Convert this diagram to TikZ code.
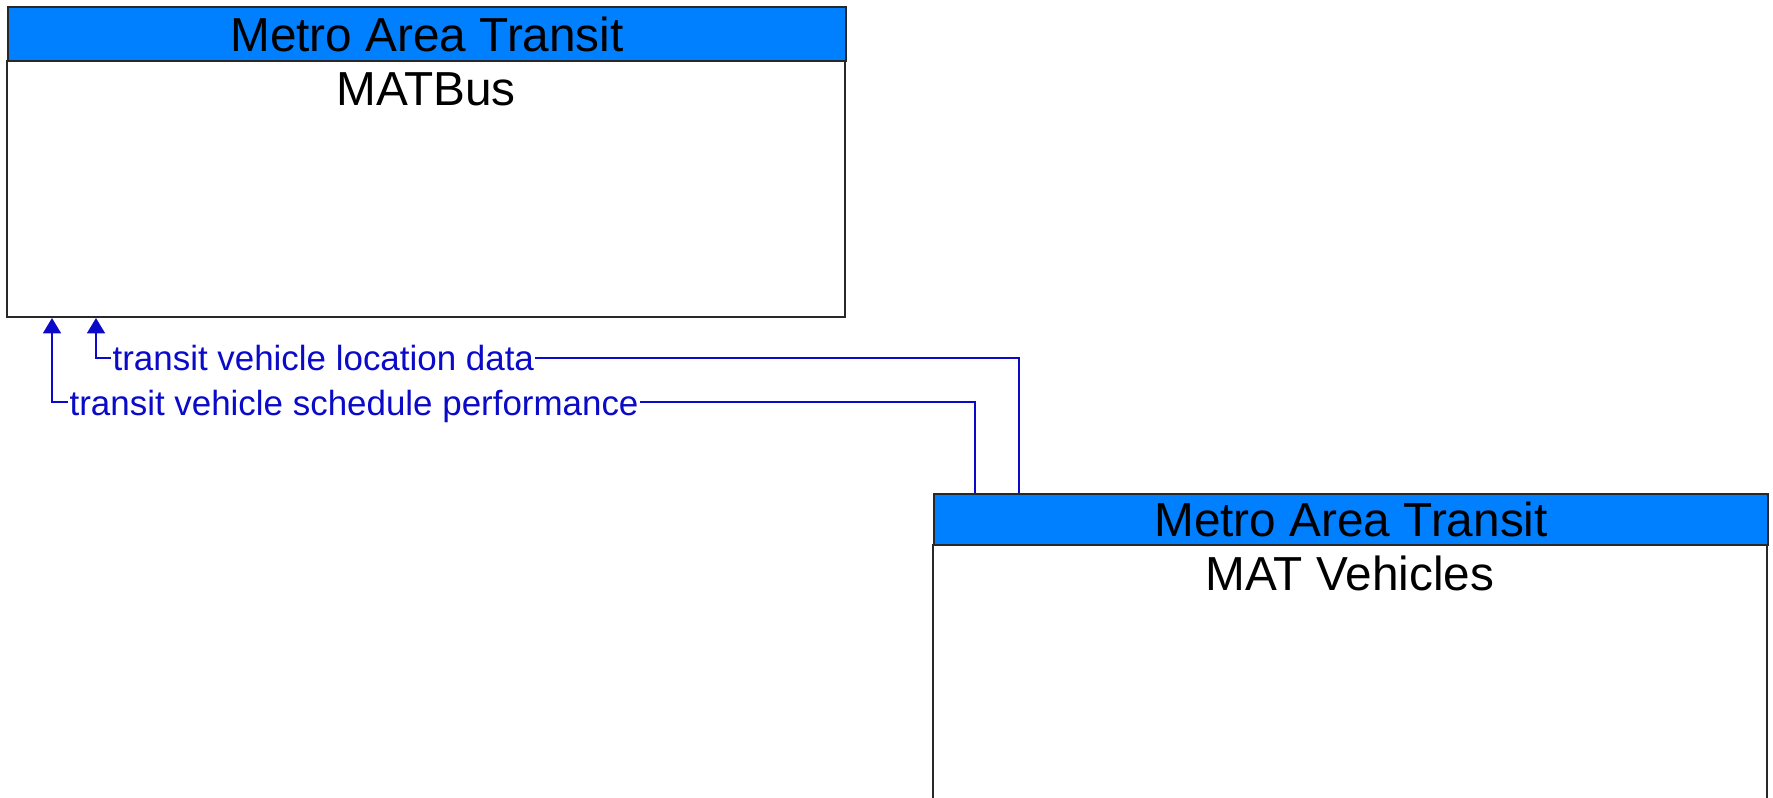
\documentclass[tikz,border=0pt]{standalone}
\usepackage{fontspec}
\setmainfont{Liberation Sans}
\usetikzlibrary{arrows.meta}
\definecolor{hdrblue}{RGB}{0,128,255}
\definecolor{flowblue}{RGB}{10,10,200}
\definecolor{edge}{RGB}{40,40,40}
\tikzset{
  hdr/.style={draw=edge, line width=1.5pt, fill=hdrblue, inner sep=0pt, anchor=north west,
    font=\fontsize{35.8}{40}\selectfont, text=black},
  bodybox/.style={draw=edge, line width=1.5pt, fill=white, inner sep=0pt, anchor=north},
  ttl/.style={inner sep=0pt, anchor=north, font=\fontsize{35.8}{40}\selectfont, text=black},
  flow/.style={draw=flowblue, line width=1.2pt, -{Triangle[length=11.5pt,width=13.5pt]}},
  lbl/.style={fill=white, inner xsep=1pt, inner ysep=2pt, anchor=base west,
    font=\fontsize{26.2}{30}\selectfont, text=flowblue},
}
\begin{document}
\begin{tikzpicture}[x=0.75pt,y=-0.75pt]
\useasboundingbox (0,0) rectangle (1773,798);
\clip (0,0) rectangle (1773,798);
% top box
\node[bodybox, minimum width=628.5pt, minimum height=192pt] (b1) at (426,60) {};
\node[hdr, minimum width=628.5pt, minimum height=40.5pt] (h1) at (7,6) {Metro Area Transit};
\node[ttl] (t1) at ([yshift=-9pt]b1.north) {MATBus};
% bottom box
\node[bodybox, minimum width=625.5pt, minimum height=229.5pt] (b2) at (1350,544) {};
\node[hdr, minimum width=625.5pt, minimum height=38.25pt] (h2) at (933,493) {Metro Area Transit};
\node[ttl] (t2) at ([yshift=-8.5pt]b2.north) {MAT Vehicles};
% connectors
\coordinate (p1) at (1019,358);
\coordinate (p2) at (96,358);
\coordinate (q1) at (975,402);
\coordinate (q2) at (52,402);
\draw[flow] (h2.north -| p1) -- (p1) -- (p2) -- (b1.south -| p2);
\draw[flow] (h2.north -| q1) -- (q1) -- (q2) -- (b1.south -| q2);
\node[lbl] (l1) at (111,371) {transit vehicle location data};
\node[lbl] (l2) at (68,415) {transit vehicle schedule performance};
\end{tikzpicture}
\end{document}
